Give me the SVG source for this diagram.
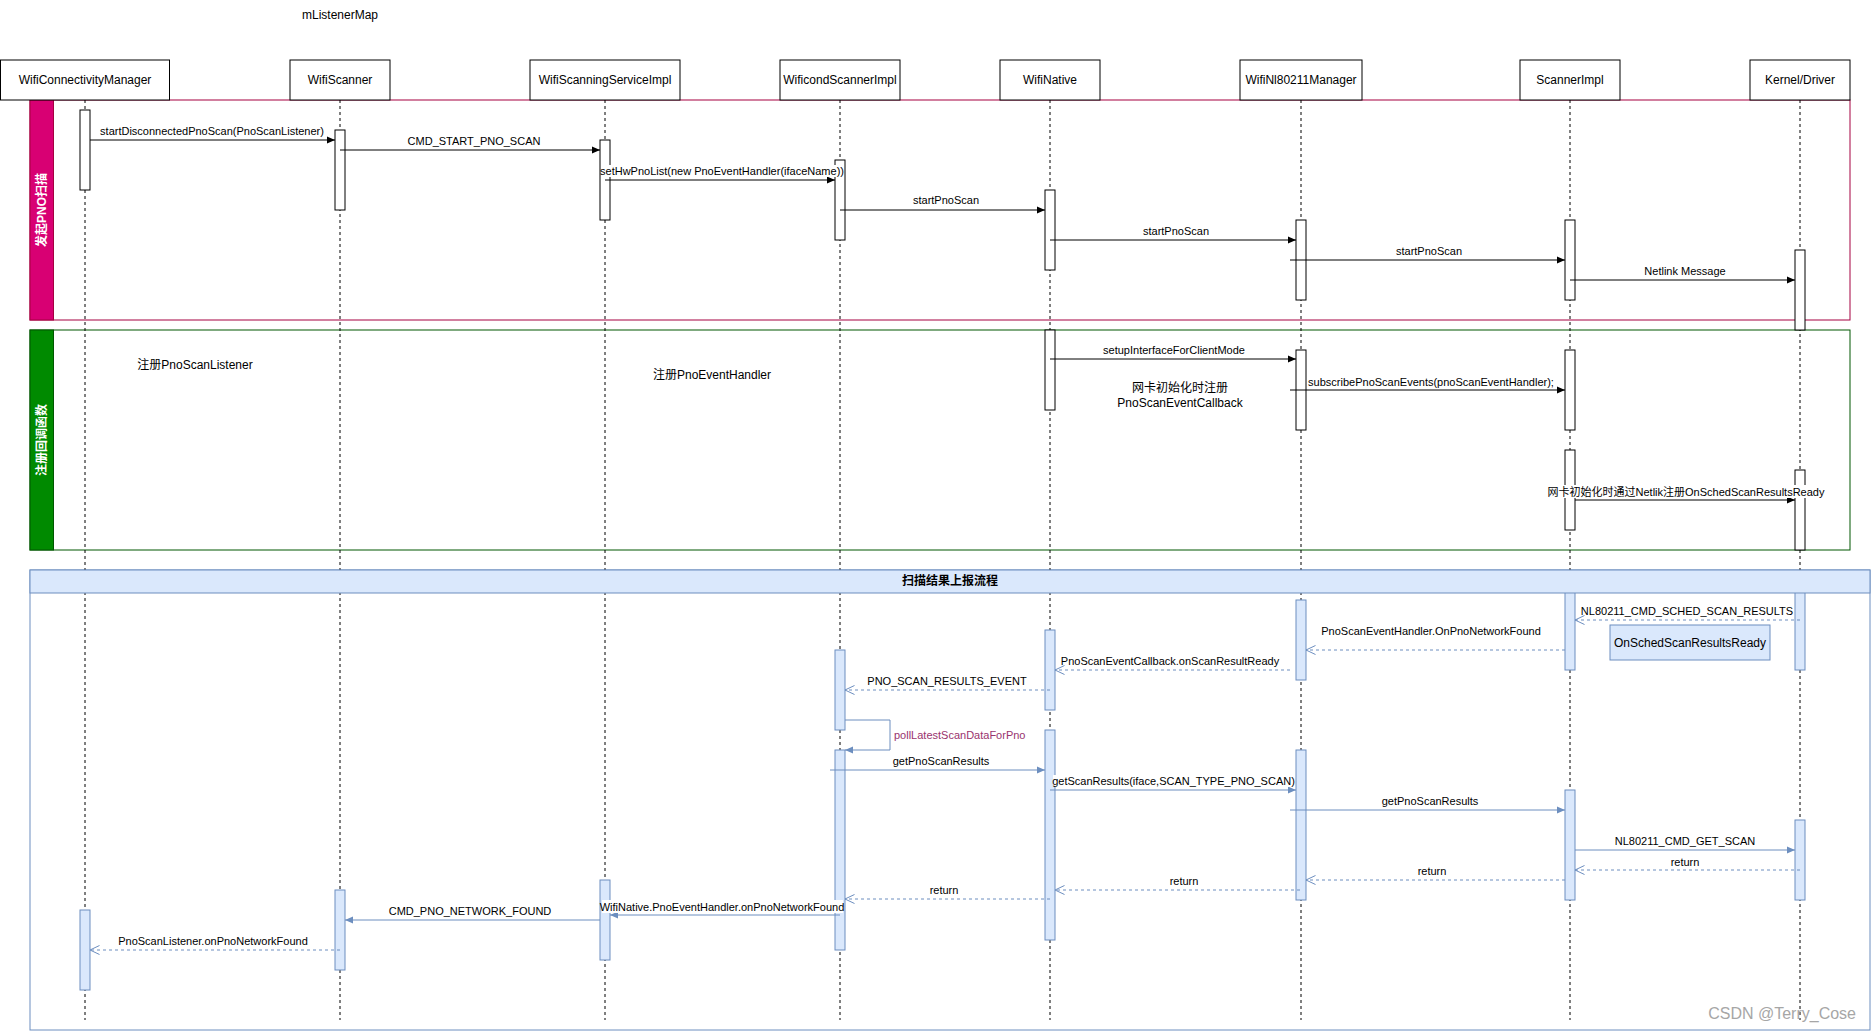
<svg xmlns="http://www.w3.org/2000/svg" width="1871" height="1031" viewBox="0 0 1871 1031">
<style>
text{font-family:"Liberation Sans","Noto Sans CJK SC",sans-serif;fill:#000;}
.box{fill:#fff;stroke:#000;stroke-width:1;}
.bl{font-size:12px;text-anchor:middle;}
.lab{font-size:11px;text-anchor:middle;}
.labl{font-size:11px;text-anchor:start;}
.note{font-size:12px;text-anchor:middle;}
.life{stroke:#000;stroke-width:1;stroke-dasharray:3 3;fill:none;}
.actw{fill:#fff;stroke:#000;stroke-width:1;}
.actb{fill:#dae8fc;stroke:#6c8ebf;stroke-width:1;}
.msg{stroke:#000;stroke-width:1;fill:none;marker-end:url(#ab);}
.msgb{stroke:#6c8ebf;stroke-width:1;fill:none;marker-end:url(#abb);}
.ret{stroke:#6c8ebf;stroke-width:1;stroke-dasharray:3 3;fill:none;marker-end:url(#ob);}
.vt{font-size:12px;font-weight:bold;fill:#fff;text-anchor:middle;}
.bg{fill:#fff;}
</style>
<defs>
<marker id="ab" viewBox="0 0 8 8" refX="8" refY="4" markerWidth="8" markerHeight="8" markerUnits="userSpaceOnUse" orient="auto"><path d="M0,0.5 L8,4 L0,7.5 z" fill="#000"/></marker>
<marker id="abb" viewBox="0 0 8 8" refX="8" refY="4" markerWidth="8" markerHeight="8" markerUnits="userSpaceOnUse" orient="auto"><path d="M0,0.5 L8,4 L0,7.5 z" fill="#6c8ebf"/></marker>
<marker id="ob" viewBox="0 0 10 10" refX="9.5" refY="5" markerWidth="10" markerHeight="10" markerUnits="userSpaceOnUse" orient="auto"><path d="M0,0.5 L9.5,5 L0,9.5" fill="none" stroke="#6c8ebf" stroke-width="1"/></marker>
</defs>
<rect x="0" y="0" width="1871" height="1031" fill="#fff"/>

<text class="bl" x="340" y="19">mListenerMap</text>

<!-- regions -->
<g id="region-pno">
<rect x="30" y="100" width="1820" height="220" fill="none" stroke="#A50040"/>
<rect x="30" y="100" width="23.5" height="220" fill="#d80073" stroke="#A50040"/>
<text class="vt" transform="translate(46,210) rotate(-90)">发起PNO扫描</text>
</g>
<g id="region-callback">
<rect x="30" y="330" width="1820" height="220" fill="none" stroke="#005700"/>
<rect x="30" y="330" width="23.5" height="220" fill="#008a00" stroke="#005700"/>
<text class="vt" transform="translate(46,440) rotate(-90)">注册回调函数</text>
</g>
<g id="region-report-frame">
<rect x="30" y="570" width="1840" height="460" fill="none" stroke="#6c8ebf"/>
</g>

<!-- lifelines -->
<g id="lifelines">
<line class="life" x1="85" y1="100" x2="85" y2="1020"/>
<line class="life" x1="340" y1="100" x2="340" y2="1020"/>
<line class="life" x1="605" y1="100" x2="605" y2="1020"/>
<line class="life" x1="840" y1="100" x2="840" y2="1020"/>
<line class="life" x1="1050" y1="100" x2="1050" y2="1020"/>
<line class="life" x1="1301" y1="100" x2="1301" y2="1020"/>
<line class="life" x1="1570" y1="100" x2="1570" y2="1020"/>
<line class="life" x1="1800" y1="100" x2="1800" y2="1020"/>
</g>

<!-- participant heads -->
<g id="WifiConnectivityManager"><rect class="box" x="0.5" y="60" width="169" height="40"/><text class="bl" x="85" y="84">WifiConnectivityManager</text></g>
<g id="WifiScanner"><rect class="box" x="290" y="60" width="100" height="40"/><text class="bl" x="340" y="84">WifiScanner</text></g>
<g id="WifiScanningServiceImpl"><rect class="box" x="530" y="60" width="150" height="40"/><text class="bl" x="605" y="84">WifiScanningServiceImpl</text></g>
<g id="WificondScannerImpl"><rect class="box" x="780" y="60" width="120" height="40"/><text class="bl" x="840" y="84">WificondScannerImpl</text></g>
<g id="WifiNative"><rect class="box" x="1000" y="60" width="100" height="40"/><text class="bl" x="1050" y="84">WifiNative</text></g>
<g id="WifiNl80211Manager"><rect class="box" x="1240" y="60" width="122" height="40"/><text class="bl" x="1301" y="84">WifiNl80211Manager</text></g>
<g id="ScannerImpl"><rect class="box" x="1520" y="60" width="100" height="40"/><text class="bl" x="1570" y="84">ScannerImpl</text></g>
<g id="KernelDriver"><rect class="box" x="1750" y="60" width="100" height="40"/><text class="bl" x="1800" y="84">Kernel/Driver</text></g>

<!-- activations -->
<g id="activations">
<rect class="actw" x="80" y="110" width="10" height="80"/>
<rect class="actw" x="335" y="130" width="10" height="80"/>
<rect class="actw" x="600" y="140" width="10" height="80"/>
<rect class="actw" x="835" y="160" width="10" height="80"/>
<rect class="actw" x="1045" y="190" width="10" height="80"/>
<rect class="actw" x="1296" y="220" width="10" height="80"/>
<rect class="actw" x="1565" y="220" width="10" height="80"/>
<rect class="actw" x="1795" y="250" width="10" height="80"/>
<rect class="actw" x="1045" y="330" width="10" height="80"/>
<rect class="actw" x="1296" y="350" width="10" height="80"/>
<rect class="actw" x="1565" y="350" width="10" height="80"/>
<rect class="actw" x="1565" y="450" width="10" height="80"/>
<rect class="actw" x="1795" y="470" width="10" height="80"/>
<rect class="actb" x="1565" y="590" width="10" height="80"/>
<rect class="actb" x="1795" y="590" width="10" height="80"/>
<rect class="actb" x="1296" y="600" width="10" height="80"/>
<rect class="actb" x="1045" y="630" width="10" height="80"/>
<rect class="actb" x="835" y="650" width="10" height="80"/>
<rect class="actb" x="835" y="750" width="10" height="200"/>
<rect class="actb" x="1045" y="730" width="10" height="210"/>
<rect class="actb" x="1296" y="750" width="10" height="150"/>
<rect class="actb" x="1565" y="790" width="10" height="110"/>
<rect class="actb" x="1795" y="820" width="10" height="80"/>
<rect class="actb" x="600" y="880" width="10" height="80"/>
<rect class="actb" x="335" y="890" width="10" height="80"/>
<rect class="actb" x="80" y="910" width="10" height="80"/>
</g>

<!-- report header (over lifelines) -->
<g id="region-report-header">
<rect x="30" y="570" width="1840" height="23" fill="#dae8fc" stroke="#6c8ebf"/>
<text x="950" y="585" style="font-size:12px;font-weight:bold;text-anchor:middle;">扫描结果上报流程</text>
</g>

<!-- connectors -->
<g id="connectors">
<line class="msg" x1="90" y1="140" x2="335" y2="140"/>
<line class="msg" x1="340" y1="150" x2="600" y2="150"/>
<line class="msg" x1="605" y1="180" x2="835" y2="180"/>
<line class="msg" x1="840" y1="210" x2="1045" y2="210"/>
<line class="msg" x1="1050" y1="240" x2="1296" y2="240"/>
<line class="msg" x1="1290" y1="260" x2="1565" y2="260"/>
<line class="msg" x1="1570" y1="280" x2="1795" y2="280"/>
<line class="msg" x1="1050" y1="359" x2="1296" y2="359"/>
<line class="msg" x1="1290" y1="390" x2="1565" y2="390"/>
<line class="msg" x1="1575" y1="500" x2="1795" y2="500"/>

<line class="ret" x1="1800" y1="620" x2="1575" y2="620"/>
<line class="ret" x1="1565" y1="650" x2="1306" y2="650"/>
<line class="ret" x1="1290" y1="670" x2="1055" y2="670"/>
<line class="ret" x1="1050" y1="690" x2="845" y2="690"/>
<path class="msgb" d="M845,720 L890,720 L890,750 L845,750"/>
<line class="msgb" x1="830" y1="770" x2="1045" y2="770"/>
<line class="msgb" x1="1050" y1="790" x2="1296" y2="790"/>
<line class="msgb" x1="1290" y1="810" x2="1565" y2="810"/>
<line class="msgb" x1="1575" y1="850" x2="1795" y2="850"/>
<line class="ret" x1="1800" y1="870" x2="1575" y2="870"/>
<line class="ret" x1="1565" y1="880" x2="1306" y2="880"/>
<line class="ret" x1="1300" y1="890" x2="1055" y2="890"/>
<line class="ret" x1="1050" y1="899" x2="845" y2="899"/>
<line class="msgb" x1="840" y1="915" x2="610" y2="915"/>
<line class="msgb" x1="600" y1="920" x2="345" y2="920"/>
<line class="ret" x1="340" y1="950" x2="90" y2="950"/>
</g>

<!-- labels -->
<g id="labels">
<text class="lab" x="212" y="135">startDisconnectedPnoScan(PnoScanListener)</text>
<text class="lab" x="474" y="145">CMD_START_PNO_SCAN</text>
<rect class="bg" x="601" y="165" width="242" height="12"/>
<text class="lab" x="722" y="175">setHwPnoList(new PnoEventHandler(ifaceName))</text>
<text class="lab" x="946" y="204">startPnoScan</text>
<text class="lab" x="1176" y="235">startPnoScan</text>
<text class="lab" x="1429" y="255">startPnoScan</text>
<text class="lab" x="1685" y="275">Netlink Message</text>

<text class="lab" x="1174" y="354">setupInterfaceForClientMode</text>
<text class="lab" x="1431" y="386">subscribePnoScanEvents(pnoScanEventHandler);</text>
<rect class="bg" x="1548" y="485" width="276" height="13"/>
<text class="lab" x="1686" y="496">网卡初始化时通过Netlik注册OnSchedScanResultsReady</text>
<text class="note" x="195" y="369">注册PnoScanListener</text>
<text class="note" x="712" y="379">注册PnoEventHandler</text>
<text class="note" x="1180" y="392">网卡初始化时注册</text>
<text class="note" x="1180" y="407">PnoScanEventCallback</text>

<text class="lab" x="1687" y="615">NL80211_CMD_SCHED_SCAN_RESULTS</text>
<text class="lab" x="1431" y="635">PnoScanEventHandler.OnPnoNetworkFound</text>
<text class="lab" x="1170" y="665">PnoScanEventCallback.onScanResultReady</text>
<text class="lab" x="947" y="685">PNO_SCAN_RESULTS_EVENT</text>
<text x="894" y="739" style="font-size:11px;fill:#99336e;">pollLatestScanDataForPno</text>
<text class="lab" x="941" y="765">getPnoScanResults</text>
<rect class="bg" x="1053" y="775" width="241" height="12"/>
<text class="lab" x="1173.5" y="785">getScanResults(iface,SCAN_TYPE_PNO_SCAN)</text>
<text class="lab" x="1430" y="805">getPnoScanResults</text>
<text class="lab" x="1685" y="845">NL80211_CMD_GET_SCAN</text>
<text class="lab" x="1685" y="866">return</text>
<text class="lab" x="1432" y="875">return</text>
<text class="lab" x="1184" y="885">return</text>
<text class="lab" x="944" y="894">return</text>
<rect class="bg" x="602" y="900" width="241" height="13"/>
<text class="lab" x="722" y="911">WifiNative.PnoEventHandler.onPnoNetworkFound</text>
<text class="lab" x="470" y="915">CMD_PNO_NETWORK_FOUND</text>
<text class="lab" x="213" y="945">PnoScanListener.onPnoNetworkFound</text>
</g>

<g id="OnSchedScanResultsReady">
<rect x="1610" y="625" width="160" height="35" fill="#dae8fc" stroke="#6c8ebf"/>
<text class="note" x="1690" y="647">OnSchedScanResultsReady</text>
</g>

<text x="1856" y="1019" style="font-size:16px;fill:#a6a6a6;text-anchor:end;">CSDN @Terry_Cose</text>
</svg>
